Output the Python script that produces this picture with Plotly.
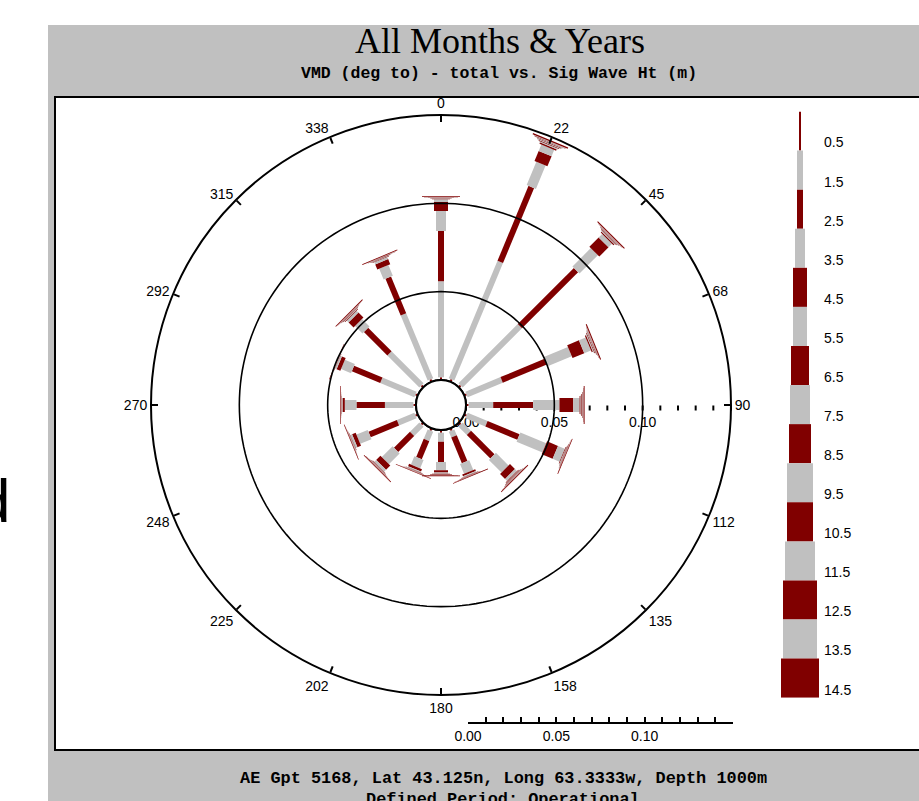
import plotly.graph_objects as go

W, H = 919, 801

# ---------------- data ----------------
directions = [0, 22.5, 45, 67.5, 90, 112.5, 135, 157.5, 180, 202.5, 225, 247.5, 270, 292.5, 315, 337.5]
compass_labels = ["0", "22", "45", "68", "90", "112", "135", "158", "180", "202",
                  "225", "248", "270", "292", "315", "338"]
height_bins = ["0.5", "1.5", "2.5", "3.5", "4.5", "5.5", "6.5", "7.5", "8.5", "9.5",
               "10.5", "11.5", "12.5", "13.5", "14.5"]

# frequency (fraction of total) per direction, one list per wave-height bin
# order of directions: N NNE NE ENE E ESE SE SSE S SSW SW WSW W WNW NW NNW
freq_0_5 = [0.0015, 0.0015, 0.0015, 0.0015, 0.0015, 0.0015, 0.0015, 0.0015,
            0.0015, 0.0015, 0.0015, 0.0015, 0.0015, 0.0015, 0.0015, 0.0015]
freq_1_5 = [0.0544, 0.0720, 0.0475, 0.0215, 0.0139, 0.0122, 0.0067, 0.0036,
            0.0052, 0.0058, 0.0075, 0.0107, 0.0161, 0.0209, 0.0256, 0.0399]
freq_2_5 = [0.0284, 0.0459, 0.0449, 0.0270, 0.0226, 0.0196, 0.0188, 0.0157,
            0.0114, 0.0111, 0.0128, 0.0174, 0.0161, 0.0174, 0.0188, 0.0225]
freq_3_5 = [0.0114, 0.0143, 0.0147, 0.0148, 0.0149, 0.0159, 0.0101, 0.0060,
            0.0047, 0.0051, 0.0086, 0.0069, 0.0066, 0.0061, 0.0060, 0.0066]
freq_4_5 = [0.0051, 0.0062, 0.0074, 0.0072, 0.0078, 0.0067, 0.0040, 0.0011,
            0.0013, 0.0015, 0.0034, 0.0022, 0.0013, 0.0023, 0.0040, 0.0031]
freq_5_5 = [0.0015, 0.0039, 0.0028, 0.0041, 0.0036, 0.0042, 0.0016, 0.0006,
            0.0007, 0.0006, 0.0015, 0.0011, 0.0004, 0.0009, 0.0015, 0.0013]
freq_6_5 = [0.00034, 0.00085, 0.00074, 0.00074, 0.00057, 0.00040, 0.00045, 0.00023,
            0.00028, 0.00023, 0.00034, 0.00023, 0.00017, 0.00017, 0.00045, 0.00034]
freq_7_5 = [0.00023, 0.00057, 0.00051, 0.00051, 0.00045, 0.00028, 0.00034, 0.00017,
            0.00017, 0.00017, 0.00023, 0.00017, 0.00011, 0.00011, 0.00034, 0.00023]
freq_8_5 = [0.00017, 0.00045, 0.00040, 0.00040, 0.00034, 0.00023, 0.00028, 0.00011,
            0.00017, 0.00011, 0.00017, 0.00011, 0.00006, 0.00006, 0.00028, 0.00017]
freq_9_5 = [0.00011, 0.00040, 0.00034, 0.00034, 0.00028, 0.00017, 0.00023, 0.00006,
            0.00011, 0.00006, 0.00011, 0.00006, 0.00006, 0.00006, 0.00023, 0.00011]
freq_10_5 = [0.00011, 0.00034, 0.00028, 0.00028, 0.00023, 0.00017, 0.00017, 0.00006,
             0.00006, 0.00006, 0.00011, 0.00006, 0.00003, 0.00003, 0.00017, 0.00011]
freq_11_5 = [0.00011, 0.00034, 0.00023, 0.00023, 0.00017, 0.00011, 0.00011, 0.00006,
             0.00006, 0.00006, 0.00011, 0.00006, 0.00003, 0.00003, 0.00011, 0.00011]
freq_12_5 = [0.00011, 0.00028, 0.00017, 0.00017, 0.00017, 0.00011, 0.00011, 0.00006,
             0.00006, 0.00006, 0.00011, 0.00006, 0.00003, 0.00003, 0.00011, 0.00011]
freq_13_5 = [0.00006, 0.00023, 0.00017, 0.00017, 0.00011, 0.00006, 0.00011, 0.00006,
             0.00006, 0.00006, 0.00006, 0.00006, 0.00003, 0.00003, 0.00011, 0.00006]
freq_14_5 = [0.00045, 0.00074, 0.00057, 0.00057, 0.00051, 0.00040, 0.00045, 0.00034,
             0.00045, 0.00034, 0.00045, 0.00034, 0.00034, 0.00034, 0.00045, 0.00045]

freqs = [freq_0_5, freq_1_5, freq_2_5, freq_3_5, freq_4_5, freq_5_5, freq_6_5, freq_7_5,
         freq_8_5, freq_9_5, freq_10_5, freq_11_5, freq_12_5, freq_13_5, freq_14_5]

radial_ticks = [0.00, 0.01, 0.02, 0.03, 0.04, 0.05, 0.06, 0.07, 0.08, 0.09, 0.10,
                0.11, 0.12, 0.13, 0.14, 0.15]
radial_labels = ["0.00", "", "", "", "", "0.05", "", "", "", "", "0.10", "", "", "", "", ""]
ring_values = [0.00, 0.05, 0.10]
scale_ticks = [0.00, 0.05, 0.10]
scale_labels = ["0.00", "0.05", "0.10"]

# ---------------- styles ----------------
RED, GRAY = "#800000", "#C0C0C0"
bin_colors = [RED, GRAY, RED, GRAY, RED, GRAY, RED, GRAY, RED, GRAY, RED, GRAY, RED, GRAY, RED]
bin_widths = [2, 6, 6, 10, 14, 14, 18, 20, 22, 26, 26, 30, 34, 34, 38]
SANS = "Liberation Sans, Arial, sans-serif"
SERIF = "Liberation Serif, Times New Roman, serif"
MONO = "Liberation Mono, Courier New, monospace"

def px(x):
    return x / W

def py(y):
    return 1 - y / H

fig = go.Figure()

# stacked rose segments: one trace per height bin
cum = [0.0] * len(directions)
for k, vals in enumerate(freqs):
    r, th = [], []
    for j, d in enumerate(directions):
        r += [cum[j], cum[j] + vals[j], None]
        th += [d, d, None]
        cum[j] += vals[j]
    fig.add_trace(go.Scatterpolar(
        r=r, theta=th, mode="lines", connectgaps=False,
        line=dict(color=bin_colors[k], width=bin_widths[k]),
        hoverinfo="skip", showlegend=False))

# reference rings (hole edge, 0.05, 0.10)
circle_theta = [i * 2 for i in range(181)]
for v in ring_values:
    fig.add_trace(go.Scatterpolar(
        r=[v] * len(circle_theta), theta=circle_theta, mode="lines",
        line=dict(color="black", width=2 if v == 0 else 1.6),
        hoverinfo="skip", showlegend=False))

# legend column (stacked bars)
leg_scale = 40.0  # px per data unit on legend x axis
fig.add_trace(go.Bar(
    x=[0] * len(height_bins), y=[1] * len(height_bins),
    base=list(range(len(height_bins))),
    width=[w / leg_scale for w in bin_widths],
    marker=dict(color=bin_colors, line=dict(width=0)),
    xaxis="x", yaxis="y", hoverinfo="skip", showlegend=False))
fig.add_trace(go.Scatter(
    x=[24 / leg_scale] * len(height_bins),
    y=[i + 0.83 for i in range(len(height_bins))],
    text=height_bins, mode="text", textposition="middle right", cliponaxis=False,
    textfont=dict(size=14, color="black", family=SANS),
    xaxis="x", yaxis="y", hoverinfo="skip", showlegend=False))

# scale bar axis (empty trace to host axis)
fig.add_trace(go.Scatter(x=[], y=[], xaxis="x2", yaxis="y2", showlegend=False))

fig.update_layout(
    width=W, height=H, template="none",
    margin=dict(l=0, r=0, t=0, b=0),
    paper_bgcolor="white", plot_bgcolor="rgba(0,0,0,0)",
    font=dict(family=SANS, size=14, color="black"),
    showlegend=False,
    polar=dict(
        domain=dict(x=[px(151), px(731)], y=[py(695), py(115)]),
        hole=25 / 290, bgcolor="white",
        radialaxis=dict(range=[0, 0.15], angle=0, side="clockwise",
                        tickmode="array", tickvals=radial_ticks, ticktext=radial_labels,
                        ticks="outside", ticklen=5, tickwidth=1.5, tickcolor="black",
                        showline=False, showgrid=False, layer="below traces",
                        tickfont=dict(size=14, color="black", family=SANS), tickangle=0),
        angularaxis=dict(rotation=90, direction="clockwise",
                         tickmode="array", tickvals=directions, ticktext=compass_labels,
                         ticks="inside", ticklen=6, tickwidth=1.5, tickcolor="black",
                         showline=True, linecolor="black", linewidth=2, showgrid=False,
                         tickfont=dict(size=14, color="black", family=SANS)),
    ),
    xaxis=dict(domain=[px(760), px(840)], range=[-1, 1], visible=False, fixedrange=True),
    yaxis=dict(domain=[py(697.7), py(111.5)], range=[15, 0], visible=False, fixedrange=True),
    xaxis2=dict(domain=[px(468), px(733)], range=[0, 0.15], anchor="y2",
                showline=True, linecolor="black", linewidth=2, showgrid=False, zeroline=False,
                tickmode="array", tickvals=scale_ticks, ticktext=scale_labels,
                ticks="inside", ticklen=5, tickwidth=1.5, tickcolor="black",
                minor=dict(ticks="inside", dtick=0.01, tick0=0, ticklen=5, tickwidth=1.5,
                           tickcolor="black", showgrid=False),
                tickfont=dict(size=14, color="black", family=SANS)),
    yaxis2=dict(domain=[py(722), py(712)], range=[0, 1], visible=False),
    shapes=[
        dict(type="rect", xref="paper", yref="paper", x0=px(48), x1=px(925), y0=py(25), y1=py(805),
             fillcolor="#C0C0C0", line=dict(width=0), layer="below"),
        dict(type="rect", xref="paper", yref="paper", x0=px(55), x1=px(930), y0=py(97), y1=py(750),
             fillcolor="white", line=dict(color="black", width=2), layer="below"),
    ],
    annotations=[
        dict(text="All Months & Years", x=px(500), y=py(41), xref="paper", yref="paper",
             xanchor="center", yanchor="middle", showarrow=False,
             font=dict(family=SERIF, size=36, color="black")),
        dict(text="<b>VMD (deg to) - total vs. Sig Wave Ht (m)</b>", x=px(499), y=py(73),
             xref="paper", yref="paper", xanchor="center", yanchor="middle", showarrow=False,
             font=dict(family=MONO, size=16.5, color="black")),
        dict(text="<b>AE Gpt 5168, Lat 43.125n, Long 63.3333w, Depth 1000m</b>", x=px(503), y=py(778),
             xref="paper", yref="paper", xanchor="center", yanchor="middle", showarrow=False,
             font=dict(family=MONO, size=16.9, color="black")),
        dict(text="<b>Defined Period: Operational</b>", x=px(503), y=py(799),
             xref="paper", yref="paper", xanchor="center", yanchor="middle", showarrow=False,
             font=dict(family=MONO, size=16.9, color="black")),
        dict(text="d", x=px(12), y=py(500), xref="paper", yref="paper",
             xanchor="right", yanchor="middle", showarrow=False,
             font=dict(family=SANS, size=62, color="black")),
    ],
)

fig.write_html("out.html", config={"displayModeBar": False},
               post_script="document.body.style.margin='0px';document.body.style.overflow='hidden';")
